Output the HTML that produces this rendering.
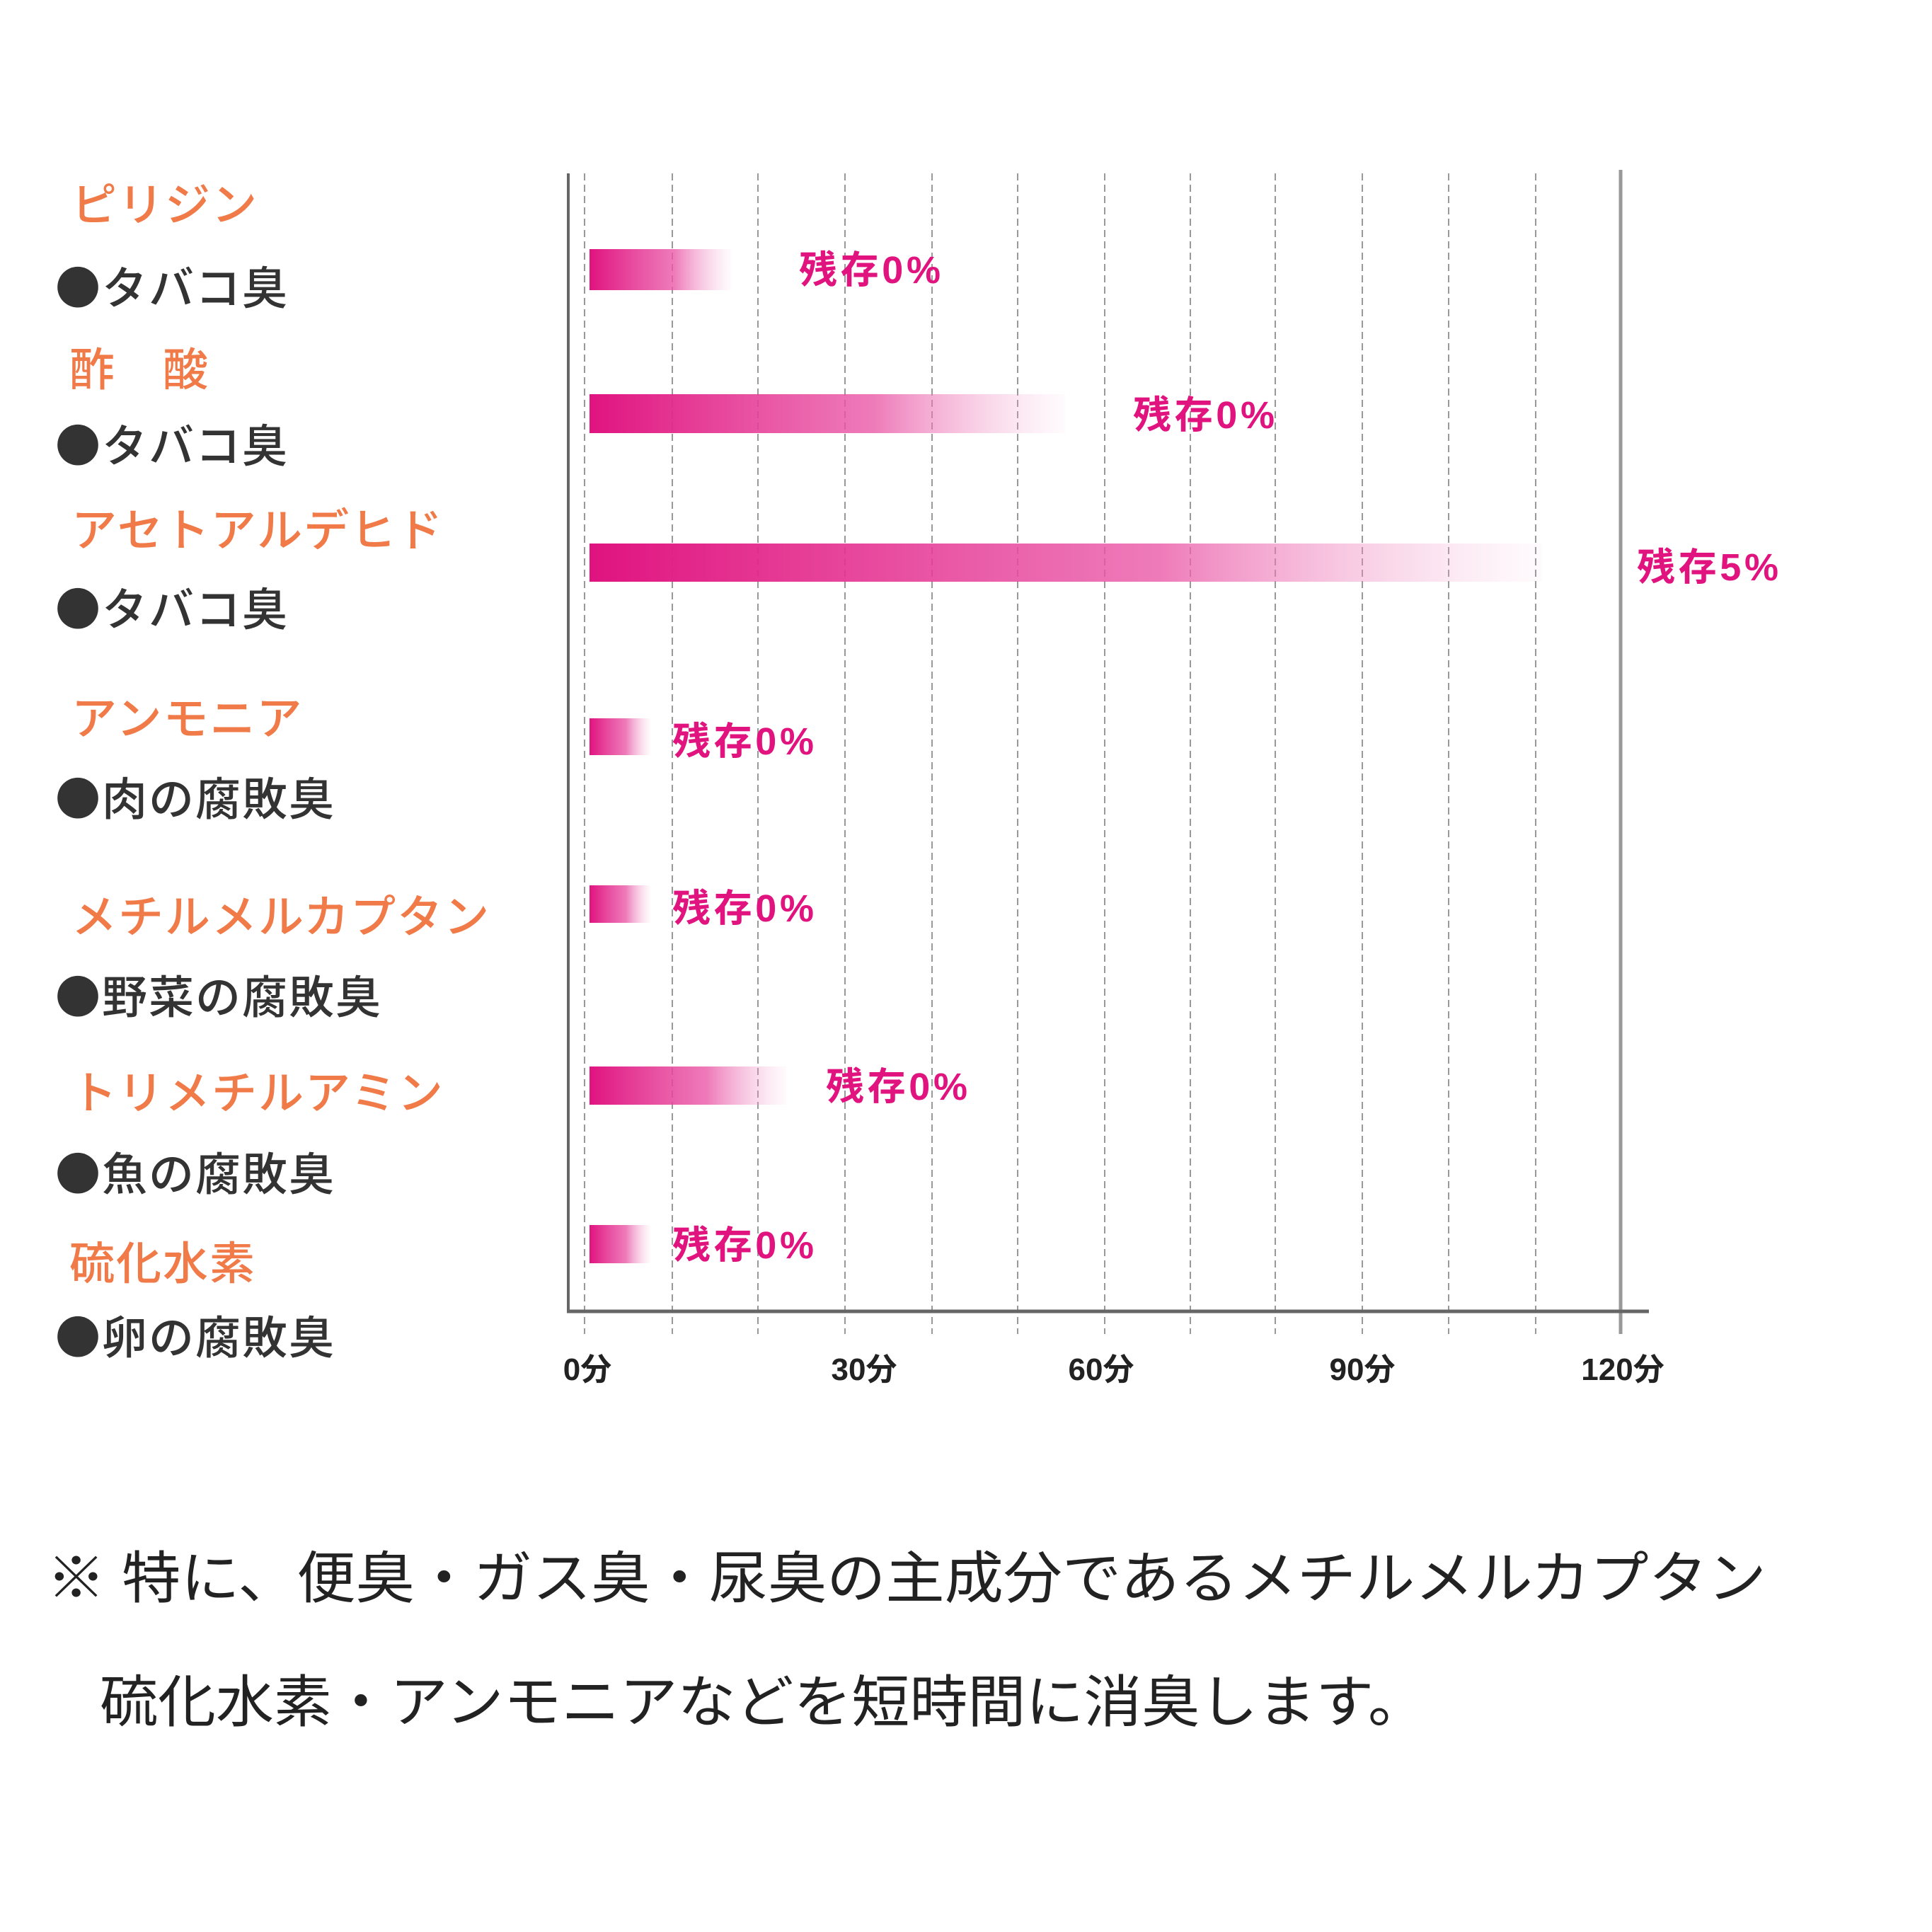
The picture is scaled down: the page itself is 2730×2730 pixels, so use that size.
<!DOCTYPE html>
<html><head><meta charset="utf-8"><style>html,body{margin:0;padding:0;background:#fff}svg{display:block}</style></head>
<body>
<svg width="2730" height="2730" viewBox="0 0 2730 2730" xmlns="http://www.w3.org/2000/svg">
<defs>
<linearGradient id="g" x1="0" x2="1" y1="0" y2="0">
<stop offset="0" stop-color="#e0137f"/><stop offset="0.6" stop-color="#ea5aa8" stop-opacity="0.8"/><stop offset="1" stop-color="#f4b0d4" stop-opacity="0.05"/>
</linearGradient>
</defs>
<rect width="2730" height="2730" fill="#fff"/>
<g stroke="#999" stroke-width="2" stroke-dasharray="10,6">
<line x1="826" y1="245" x2="826" y2="1885"/><line x1="950" y1="245" x2="950" y2="1885"/><line x1="1071" y1="245" x2="1071" y2="1885"/><line x1="1194" y1="245" x2="1194" y2="1885"/><line x1="1317" y1="245" x2="1317" y2="1885"/><line x1="1438" y1="245" x2="1438" y2="1885"/><line x1="1561" y1="245" x2="1561" y2="1885"/><line x1="1682" y1="245" x2="1682" y2="1885"/><line x1="1802" y1="245" x2="1802" y2="1885"/><line x1="1925" y1="245" x2="1925" y2="1885"/><line x1="2047" y1="245" x2="2047" y2="1885"/><line x1="2170" y1="245" x2="2170" y2="1885"/>
</g>
<line x1="803" y1="245" x2="803" y2="1855" stroke="#666" stroke-width="4"/>
<line x1="2290" y1="240" x2="2290" y2="1885" stroke="#999" stroke-width="5"/>
<line x1="801" y1="1853" x2="2330" y2="1853" stroke="#666" stroke-width="5"/>
<g fill="url(#g)">
<rect x="833" y="352" width="200" height="58"/>
<rect x="833" y="557" width="672" height="55"/>
<rect x="833" y="768" width="1346" height="54"/>
<rect x="833" y="1015" width="86" height="52"/>
<rect x="833" y="1251" width="86" height="53"/>
<rect x="833" y="1507" width="278" height="54"/>
<rect x="833" y="1731" width="86" height="54"/>
</g>
<g font-family="'Liberation Sans','Noto Sans CJK JP',sans-serif" font-weight="bold" font-size="54" fill="#e0137f">
<text x="1129" y="400" textLength="200">残存0%</text>
<text x="1601" y="605" textLength="200">残存0%</text>
<text x="2313" y="820" textLength="200">残存5%</text>
<text x="950" y="1066" textLength="200">残存0%</text>
<text x="950" y="1302" textLength="200">残存0%</text>
<text x="1167" y="1554" textLength="200">残存0%</text>
<text x="950" y="1778" textLength="200">残存0%</text>
</g>
<g font-family="'Liberation Sans','Noto Sans CJK JP',sans-serif" font-weight="bold" font-size="44" fill="#222" text-anchor="middle">
<text x="830" y="1950">0分</text><text x="1221" y="1950">30分</text><text x="1556" y="1950">60分</text><text x="1925" y="1950">90分</text><text x="2293" y="1950">120分</text>
</g>
<g font-family="'Liberation Sans','Noto Sans CJK JP',sans-serif" font-size="64" font-weight="500" fill="#f07a48" letter-spacing="2">
<text x="101" y="312">ピリジン</text>
<text x="98" y="545">酢　酸</text>
<text x="101" y="772">アセトアルデヒド</text>
<text x="101" y="1038">アンモニア</text>
<text x="101" y="1318">メチルメルカプタン</text>
<text x="101" y="1567">トリメチルアミン</text>
<text x="98" y="1808">硫化水素</text>
</g>
<g font-family="'Noto Sans CJK JP',sans-serif" font-size="64" font-weight="500" fill="#333" letter-spacing="2">
<text x="78" y="430">●タバコ臭</text>
<text x="78" y="653">●タバコ臭</text>
<text x="78" y="884">●タバコ臭</text>
<text x="78" y="1152">●肉の腐敗臭</text>
<text x="78" y="1432">●野菜の腐敗臭</text>
<text x="78" y="1682">●魚の腐敗臭</text>
<text x="78" y="1913">●卵の腐敗臭</text>
</g>
<g font-family="'Liberation Sans','Noto Sans CJK JP',sans-serif" font-size="80" fill="#222">
<text x="66" y="2258" textLength="2430" lengthAdjust="spacingAndGlyphs">※ 特に、便臭・ガス臭・尿臭の主成分であるメチルメルカプタン</text>
<text x="141" y="2433" textLength="1874" lengthAdjust="spacingAndGlyphs">硫化水素・アンモニアなどを短時間に消臭します。</text>
</g>
</svg>
</body></html>
